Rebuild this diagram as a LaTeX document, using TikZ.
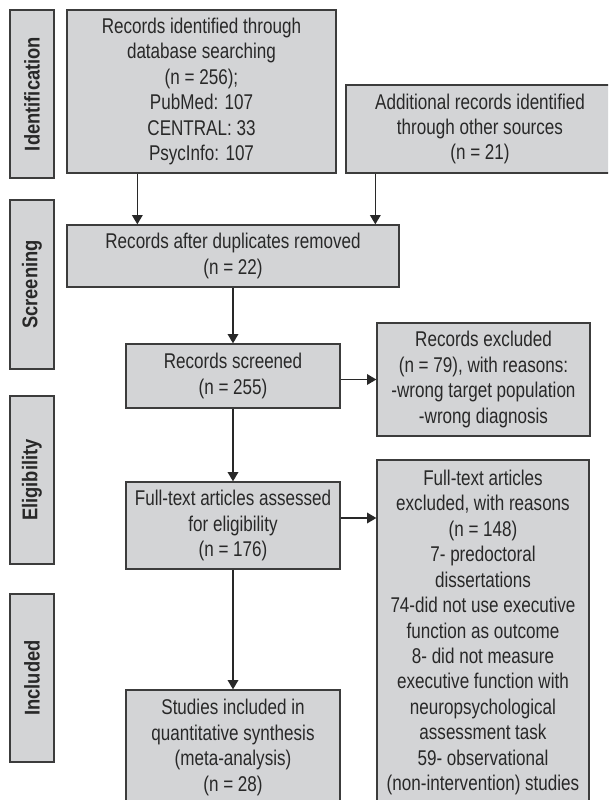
\documentclass[tikz,border=0pt]{standalone}
\usepackage{fontspec}
\setmainfont{Liberation Sans}[FakeStretch=0.80]
\newfontfamily\labelfont{Liberation Sans}[FakeStretch=0.86]
\usetikzlibrary{arrows.meta}
\definecolor{boxfill}{RGB}{211,212,214}
\definecolor{boxline}{RGB}{60,60,60}
\definecolor{txt}{RGB}{40,40,40}
\newcommand\pxl[1]{#1*0.75pt}
\tikzset{
  box/.style={draw=boxline, fill=boxfill, line width=1pt, inner sep=0pt, align=center,
    text=txt, font=\fontsize{16}{19.1}\selectfont},
  sidebox/.style={draw=boxline, fill=boxfill, line width=1pt, inner sep=0pt, align=center,
    text=txt, font=\labelfont\bfseries\fontsize{16}{18}\selectfont, rotate=90},
  arr/.style={draw=txt, line width=1pt, -{Triangle[width=8pt,length=7pt]}}
}
\begin{document}
\begin{tikzpicture}[x=0.75pt,y=-0.75pt]
\clip (0,0) rectangle (608,800);
\fill[white] (0,0) rectangle (608,800);
% side labels
\node[sidebox, minimum width=\pxl{168}, minimum height=\pxl{44}] (L1) at (32,94) {Identification};
\node[sidebox, minimum width=\pxl{169}, minimum height=\pxl{44}] (L2) at (32,284.5) {Screening};
\node[sidebox, minimum width=\pxl{168}, minimum height=\pxl{44}] (L3) at (32,480) {Eligibility};
\node[sidebox, minimum width=\pxl{168}, minimum height=\pxl{44}] (L4) at (32,678) {Included};
% boxes
\node[box, minimum width=\pxl{269}, minimum height=\pxl{163}] (B1) at (201.5,91.5)
  {Records identified through\\database searching\\(n = 256);\\PubMed: 107\\CENTRAL: 33\\PsycInfo: 107};
\node[box, minimum width=\pxl{268}, minimum height=\pxl{88}] (B2) at (480,129)
  {Additional records identified\\through other sources\\(n = 21)};
\node[box, minimum width=\pxl{332}, minimum height=\pxl{62}] (B3) at (233,256)
  {Records after duplicates removed\\(n = 22)};
\node[box, minimum width=\pxl{214}, minimum height=\pxl{64}] (B4) at (233,376)
  {Records screened\\(n = 255)};
\node[box, minimum width=\pxl{213}, minimum height=\pxl{113}] (B5) at (483.5,379.5)
  {Records excluded\\(n = 79), with reasons:\\-wrong target population\\-wrong diagnosis};
\node[box, minimum width=\pxl{214}, minimum height=\pxl{87}] (B6) at (233,525.5)
  {Full-text articles assessed\\for eligibility\\(n = 176)};
\node[box, minimum width=\pxl{212}, minimum height=\pxl{345}] (B7) at (483,632.5)
  {Full-text articles\\excluded, with reasons\\(n = 148)\\7- predoctoral\\dissertations\\74-did not use executive\\function as outcome\\8- did not measure\\executive function with\\neuropsychological\\assessment task\\59- observational\\(non-intervention) studies};
\node[box, minimum width=\pxl{214}, minimum height=\pxl{115}] (B8) at (233,747.5)
  {Studies included in\\quantitative synthesis\\(meta-analysis)\\(n = 28)};
% connectors
\coordinate (a1) at ([xshift=\pxl{71}]B1.south west);
\draw[arr] (a1) -- (a1 |- B3.north);
\coordinate (a2) at ([xshift=\pxl{30}]B2.south west);
\draw[arr] (a2) -- (a2 |- B3.north);
\draw[arr] (B3.south) -- (B4.north);
\draw[arr] (B4.east |- B5.west) -- (B5.west);
\draw[arr] (B4.south) -- (B6.north);
\coordinate (a6) at ([yshift=\pxl{7.5}]B6.east);
\draw[arr] (a6) -- (a6 -| B7.west);
\draw[arr] (B6.south) -- (B8.north);
\end{tikzpicture}
\end{document}
